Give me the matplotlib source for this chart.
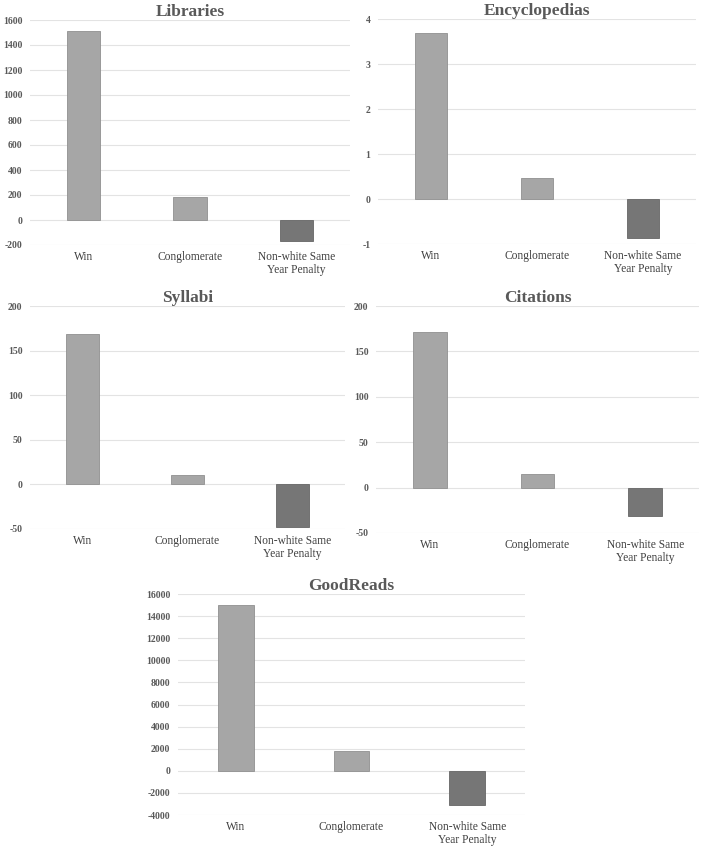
import matplotlib.pyplot as plt

plt.rcParams['font.family'] = ['Liberation Serif', 'DejaVu Serif']

# categories shared by all panels
categories = ['Win', 'Conglomerate', 'Non-white Same\nYear Penalty']

# values
libraries = [1515, 186, -168]
encyclopedias = [3.68, 0.46, -0.86]
syllabi = [169, 11, -48]
citations = [171, 15, -31]
goodreads = [14980, 1810, -3080]

# (title, values, y ticks, axes box in pixels: left, top, right, bottom)
panels = [
    ('Libraries', libraries, list(range(-200, 1601, 200)), (30, 20, 350, 245)),
    ('Encyclopedias', encyclopedias, [-1, 0, 1, 2, 3, 4], (378, 19, 696, 244)),
    ('Syllabi', syllabi, [-50, 0, 50, 100, 150, 200], (30, 306, 345, 529)),
    ('Citations', citations, [-50, 0, 50, 100, 150, 200], (376, 306, 699, 533)),
    ('GoodReads', goodreads, list(range(-4000, 16001, 2000)), (178, 594, 525, 815)),
]

W, H = 702, 847
fig = plt.figure(figsize=(W / 100, H / 100), dpi=100)

light = '#a6a6a6'
dark = '#767676'

for title, vals, ticks, (l, t, r, b) in panels:
    ax = fig.add_axes([l / W, 1 - b / H, (r - l) / W, (b - t) / H])
    colors = [light, light, dark]
    edges = ['#909090', '#909090', '#666666']
    ax.bar(range(len(vals)), vals, width=0.31, color=colors,
           edgecolor=edges, linewidth=0.6, zorder=3)
    ax.set_xlim(-0.5, len(vals) - 0.5)
    ax.set_ylim(ticks[0], ticks[-1])
    ax.set_yticks(ticks)
    ax.set_yticklabels([str(v) for v in ticks], fontsize=7,
                       fontweight='bold', color='#595959')
    ax.set_xticks(range(len(vals)))
    ax.set_xticklabels(categories, fontsize=8.3, color='#404040', linespacing=1.15)
    ax.tick_params(axis='both', length=0)
    ax.tick_params(axis='x', pad=4)
    ax.tick_params(axis='y', pad=5.5)
    ax.grid(axis='y', color='#e3e3e3', linewidth=0.8, zorder=0)
    for s in ax.spines.values():
        s.set_visible(False)
    ax.set_title(title, fontsize=12.5, fontweight='bold', color='#595959', pad=2)

fig.savefig('out.png', dpi=100)
